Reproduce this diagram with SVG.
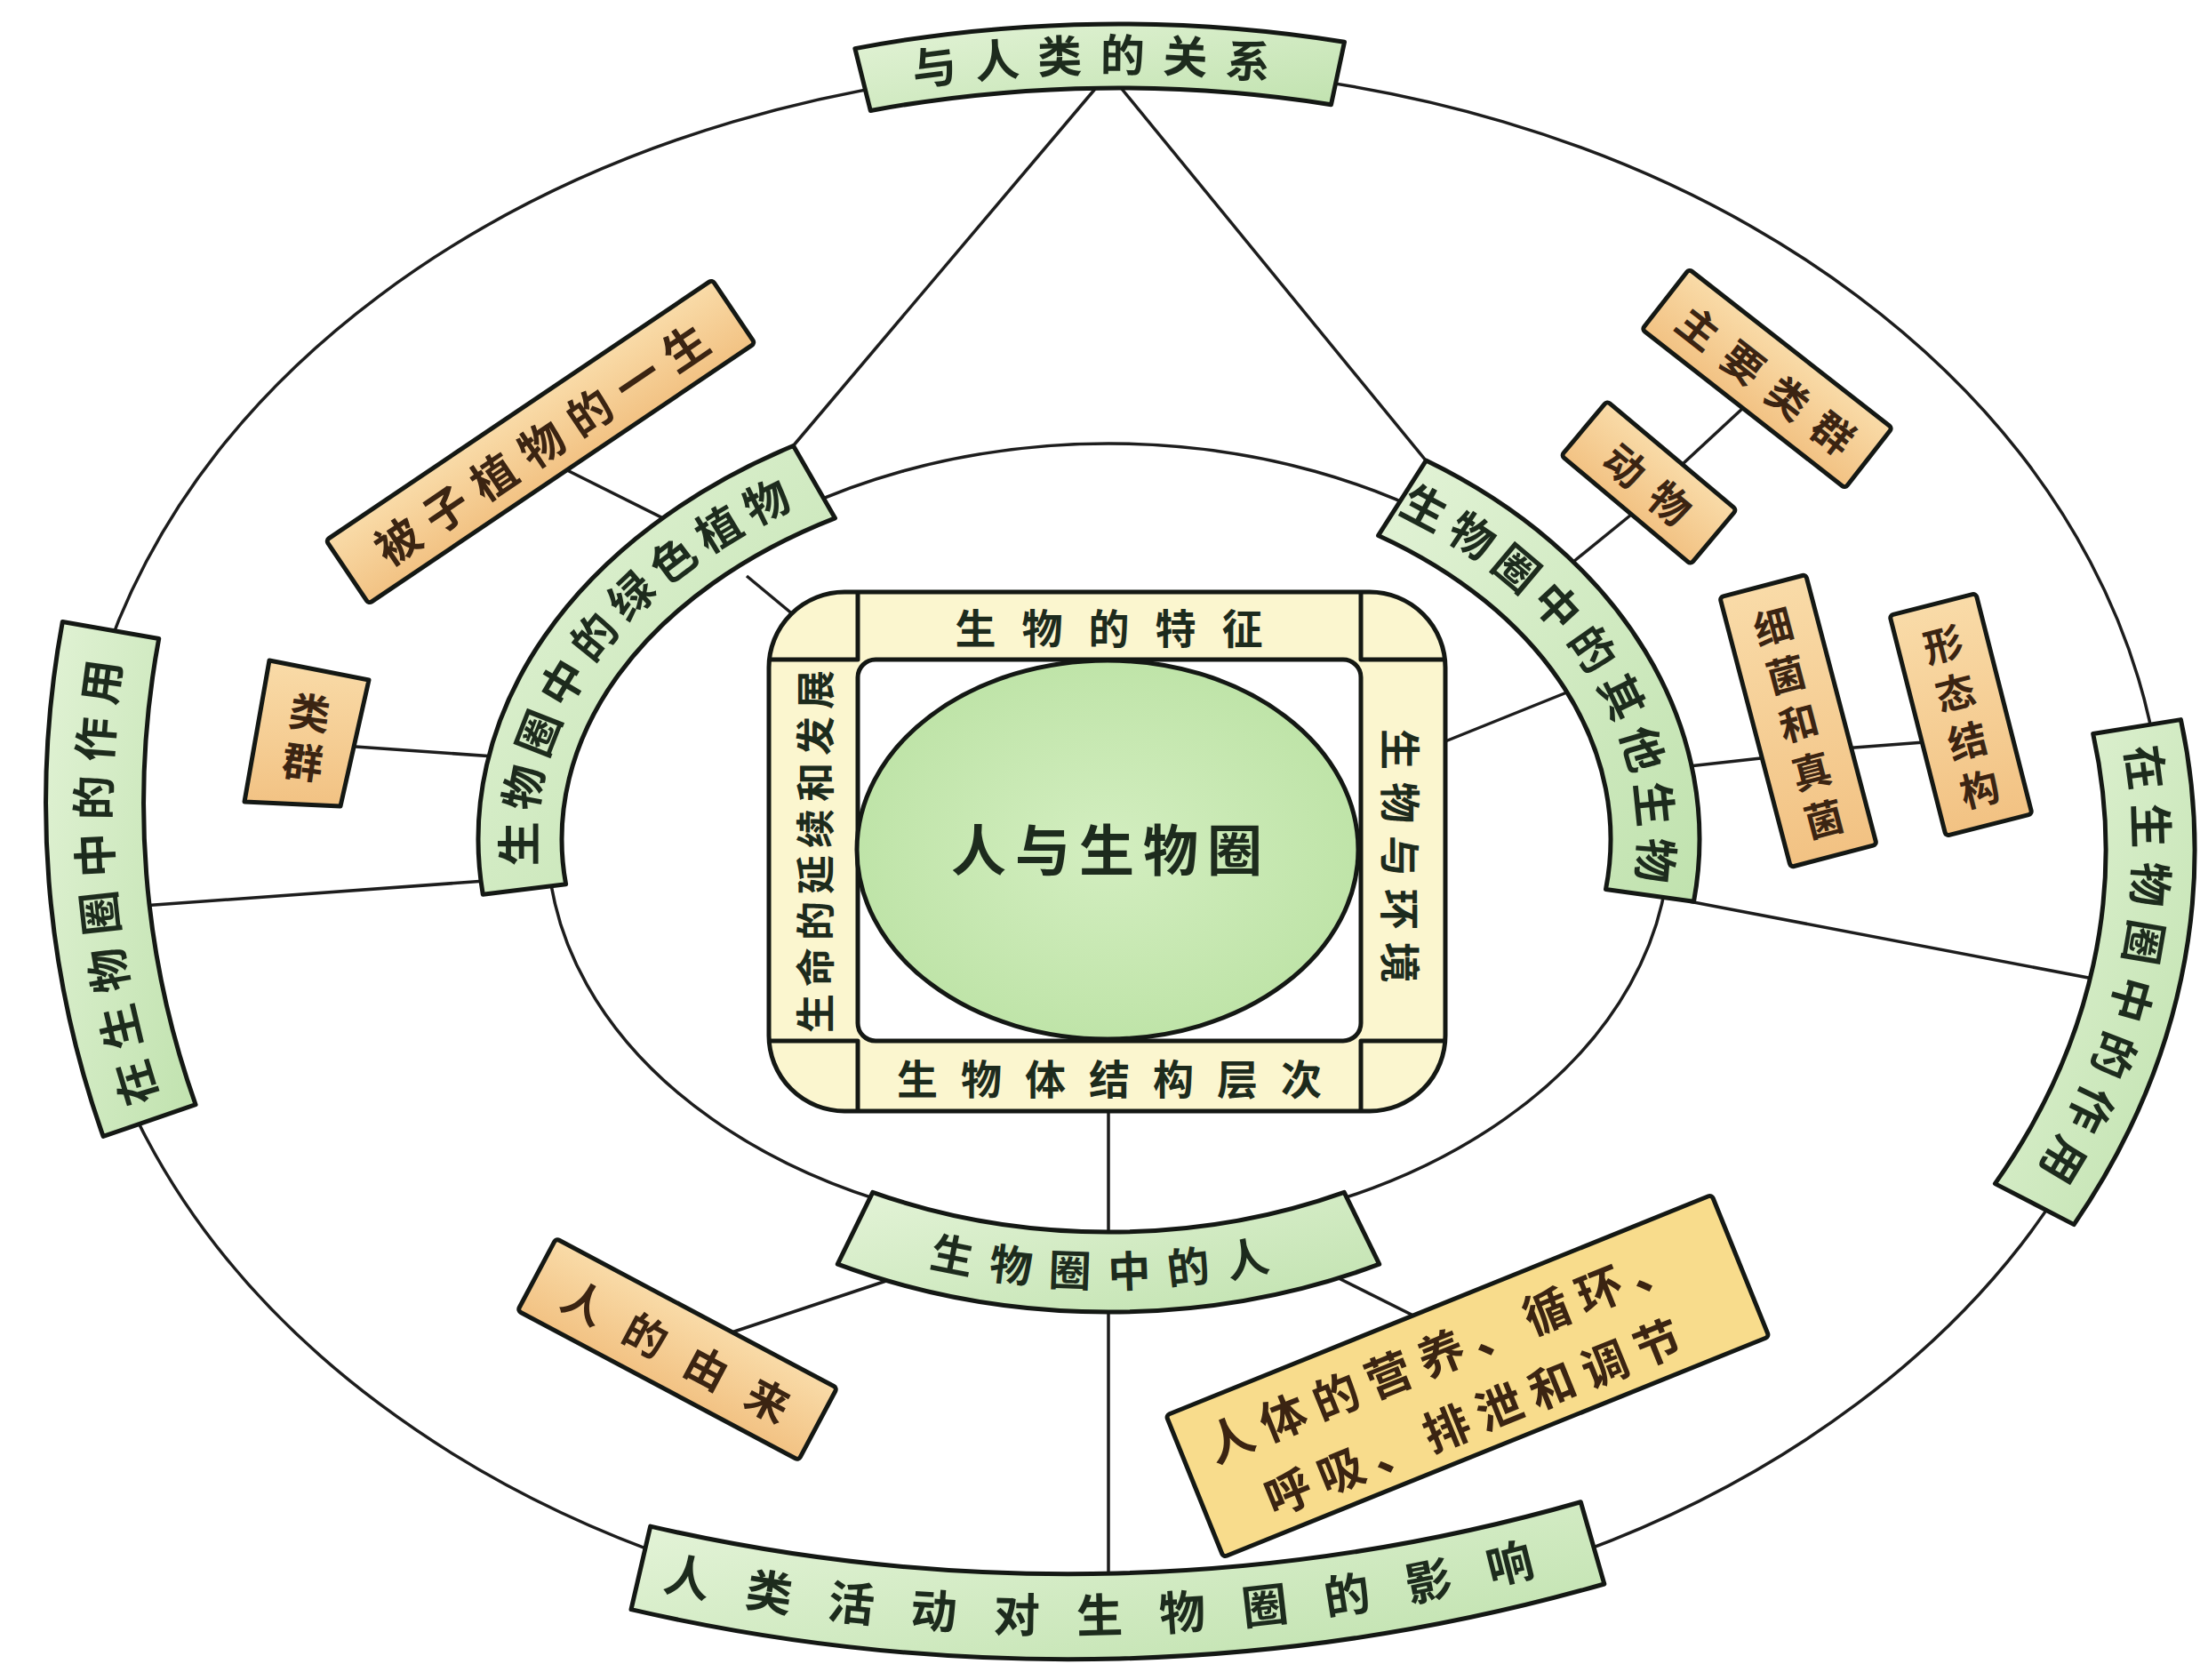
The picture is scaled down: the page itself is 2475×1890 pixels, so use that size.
<svg xmlns="http://www.w3.org/2000/svg" width="2475" height="1890" viewBox="0 0 2475 1890">
<defs>
<linearGradient id="gg" x1="0" y1="0" x2="1" y2="1"><stop offset="0" stop-color="#e3f3d7"/><stop offset="1" stop-color="#c0e2ae"/></linearGradient>
<linearGradient id="og" x1="0" y1="0" x2="0" y2="1"><stop offset="0" stop-color="#f9dba8"/><stop offset="1" stop-color="#f2c283"/></linearGradient>
<radialGradient id="eg" cx="0.5" cy="0.5" r="0.55"><stop offset="0" stop-color="#d3eec0"/><stop offset="1" stop-color="#bde3a6"/></radialGradient>
<path id="pT" d="M974.8,106.5 A1170.5,875.5 0 0 1 1501.4,99.6"/>
<path id="pA" d="M607.3,998.4 A644.5,446.5 0 0 1 924.7,557.3"/>
<path id="pB" d="M1568,575 A597.5,437.5 0 0 1 1838.7,1004.9"/>
<path id="pC" d="M954.6,1397 A667,504 0 0 0 1539.4,1397"/>
<path id="pD" d="M718,1767.3 A2157,2157 0 0 0 1798,1767.3"/>
<path id="pE" d="M166,1259.5 A1130.5,1087.5 0 0 1 161.1,714.9"/>
<path id="pF" d="M2386.8,820.3 A1143.5,848.5 0 0 1 2273.2,1346.5"/>
</defs>
<style>
.ln{fill:none;stroke:#1d1d1d;stroke-width:3.5}
.bd{stroke:#141814;stroke-width:5;stroke-linejoin:round}
.g{fill:url(#gg)}
.o{fill:url(#og)}
.y{fill:#f8dc8c}
.c{fill:#fbf6cf}
text{font-family:"Noto Sans CJK SC","Noto Sans CJK JP",sans-serif;font-weight:700}
.tg{fill:#1d2b1d}
.to{fill:#3b2412}
.mid{text-anchor:middle;dominant-baseline:central}
</style>
<rect width="2475" height="1890" fill="#ffffff"/>

<g id="connectors">
<ellipse class="ln" cx="1258" cy="956" rx="1176" ry="881"/>
<ellipse class="ln" cx="1247" cy="944" rx="631" ry="445"/>
<line class="ln" x1="1232" y1="100" x2="892" y2="502"/>
<line class="ln" x1="1262" y1="100" x2="1604" y2="518"/>
<line class="ln" x1="630" y1="525" x2="790" y2="605"/>
<line class="ln" x1="840" y1="648" x2="893" y2="692"/>
<line class="ln" x1="400" y1="840" x2="570" y2="852"/>
<line class="ln" x1="160" y1="1019" x2="560" y2="990"/>
<line class="ln" x1="1770" y1="632" x2="1840" y2="575"/>
<line class="ln" x1="1893" y1="522" x2="1962" y2="458"/>
<line class="ln" x1="1900" y1="862" x2="1990" y2="852"/>
<line class="ln" x1="2060" y1="843" x2="2165" y2="835"/>
<line class="ln" x1="1626" y1="834" x2="1770" y2="776"/>
<line class="ln" x1="1900" y1="1014" x2="2360" y2="1102"/>
<line class="ln" x1="1247" y1="1250" x2="1247" y2="1780"/>
<line class="ln" x1="1000" y1="1440" x2="790" y2="1510"/>
<line class="ln" x1="1500" y1="1435" x2="1630" y2="1500"/>
</g>

<g id="n-top">
<path class="g bd" d="M961.9,54.6 A1224,929 0 0 1 1512.5,47.3 L1497.5,117.7 A1152,857 0 0 0 979.3,124.5 Z"/>
<text class="tg" font-size="50" letter-spacing="20"><textPath href="#pT" startOffset="50%" text-anchor="middle">与人类的关系</textPath></text>
</g>

<g id="n-left-role" transform="rotate(-4 110 990)">
<path class="g bd" d="M96,1278.2 A1203,1160 0 0 1 90.7,697.4 L197.5,724 A1093,1050 0 0 0 202.2,1249.8 Z"/>
<text class="tg" font-size="50" letter-spacing="14"><textPath href="#pE" startOffset="50%" text-anchor="middle">在生物圈中的作用</textPath></text>
</g>

<g id="n-right-role">
<path class="g bd" d="M2453.4,809.6 A1211,916 0 0 1 2333.2,1377.6 L2244.4,1331.6 A1111,816 0 0 0 2354.7,825.5 Z"/>
<text class="tg" font-size="50" letter-spacing="14"><textPath href="#pF" startOffset="50%" text-anchor="middle">在生物圈中的作用</textPath></text>
</g>

<g id="n-bottom" transform="rotate(-1.5 1258 1818)">
<path class="g bd" d="M1805.6,1796.3 A2187,2187 0 0 1 710.4,1796.3 L734.5,1703.4 A2091,2091 0 0 0 1781.5,1703.4 Z"/>
<text class="tg" font-size="52" letter-spacing="42"><textPath href="#pD" startOffset="50%" text-anchor="middle">人类活动对生物圈的影响</textPath></text>
</g>

<g id="n-plants">
<path class="g bd" d="M543.3,1006.3 A709,511 0 0 1 892.5,501.5 L939.5,582.9 A615,417 0 0 0 636.6,994.8 Z"/>
<text class="tg" font-size="50" letter-spacing="10"><textPath href="#pA" startOffset="50%" text-anchor="middle">生物圈中的绿色植物</textPath></text>
</g>

<g id="n-others">
<path class="g bd" d="M1604.3,518.1 A665,505 0 0 1 1905.5,1014.3 L1806.5,1000.4 A565,405 0 0 0 1550.6,602.4 Z"/>
<text class="tg" font-size="50" letter-spacing="10"><textPath href="#pB" startOffset="50%" text-anchor="middle">生物圈中的其他生物</textPath></text>
</g>

<g id="n-human">
<path class="g bd" d="M1551.7,1422.2 A695,532 0 0 1 942.3,1422.2 L981.8,1341.3 A605,442 0 0 0 1512.2,1341.3 Z"/>
<text class="tg" font-size="48" letter-spacing="20"><textPath href="#pC" startOffset="50%" text-anchor="middle">生物圈中的人</textPath></text>
</g>

<g id="n-center">
<rect class="c bd" x="865" y="666" width="761" height="584" rx="85"/>
<rect x="965" y="742" width="566" height="429" rx="20" fill="#ffffff" class="bd"/>
<path class="bd" fill="none" d="M965,666 V742 H865 M1531,666 V742 H1626 M865,1171 H965 V1250 M1626,1171 H1531 V1250"/>
<ellipse cx="1246" cy="956" rx="282" ry="213" fill="url(#eg)" class="bd"/>
<text class="tg mid" x="1250" y="953" font-size="62" letter-spacing="10">人与生物圈</text>
<text class="tg mid" x="1262" y="704" font-size="46" letter-spacing="29">生物的特征</text>
<text class="tg mid" x="1261" y="1211" font-size="46" letter-spacing="26">生物体结构层次</text>
<text class="tg mid" transform="translate(915,958) rotate(-90)" x="4" font-size="44" letter-spacing="8">生命的延续和发展</text>
<text class="tg mid" transform="translate(1578,963) rotate(90)" x="7" font-size="46" letter-spacing="14">生物与环境</text>
</g>

<g id="n-beizi" transform="translate(608,497) rotate(-34)">
<rect class="o bd" x="-262" y="-43" width="524" height="86" rx="4"/>
<text class="to mid" x="7" y="0" font-size="50" letter-spacing="15">被子植物的一生</text>
</g>

<g id="n-leiqun">
<polygon class="o bd" points="303,743 415,765 383,907 275,902"/>
<text class="to mid" transform="translate(345,826) rotate(8)" font-size="46"><tspan x="0" y="-27">类</tspan><tspan x="0" y="29">群</tspan></text>
</g>

<g id="n-animal" transform="translate(1855,543) rotate(40)">
<rect class="o bd" x="-95" y="-40" width="190" height="80" rx="4"/>
<text class="to mid" x="10" y="0" font-size="46" letter-spacing="20">动物</text>
</g>

<g id="n-groups" transform="translate(1988,426) rotate(38)">
<rect class="o bd" x="-145" y="-43" width="290" height="86" rx="4"/>
<text class="to mid" x="9" y="0" font-size="46" letter-spacing="18">主要类群</text>
</g>

<g id="n-bacteria" transform="translate(2023,811) rotate(-14.7)">
<rect class="o bd" x="-50" y="-157" width="100" height="314" rx="4"/>
<text class="to mid" font-size="44"><tspan x="0" y="-112">细</tspan><tspan x="0" y="-56">菌</tspan><tspan x="0" y="0">和</tspan><tspan x="0" y="56">真</tspan><tspan x="0" y="112">菌</tspan></text>
</g>

<g id="n-form" transform="translate(2206,804) rotate(-14.3)">
<rect class="o bd" x="-50" y="-128" width="100" height="256" rx="4"/>
<text class="to mid" font-size="44"><tspan x="0" y="-84">形</tspan><tspan x="0" y="-28">态</tspan><tspan x="0" y="28">结</tspan><tspan x="0" y="84">构</tspan></text>
</g>

<g id="n-origin" transform="translate(762,1518) rotate(28)">
<rect class="o bd" x="-179" y="-46" width="358" height="92" rx="4"/>
<text class="to mid" x="15" y="0" font-size="48" letter-spacing="30">人的由来</text>
</g>

<g id="n-body" transform="translate(1651,1548) rotate(-22)">
<rect class="y bd" x="-331" y="-86" width="662" height="172" rx="4"/>
<text class="to" font-size="52" letter-spacing="12" dominant-baseline="central"><tspan x="-300" y="-38">人体的营养、循环、</tspan><tspan x="-262" y="42">呼吸、排泄和调节</tspan></text>
</g>
</svg>
